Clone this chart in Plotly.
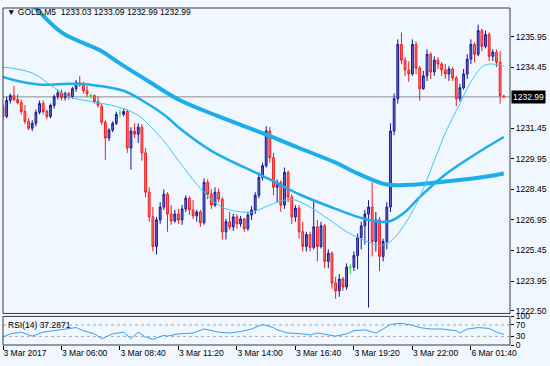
import plotly.graph_objects as go

# ---------------- data ----------------
bar_index = list(range(138))

opens = [1232.52,1232.03,1232.81,1233.05,1232.86,1232.71,1232.27,1231.79,1231.45,1231.69,
         1232.23,1232.66,1232.27,1232.03,1232.57,1233.00,1233.19,1232.95,1233.15,1233.00,
         1233.39,1233.68,1233.58,1233.29,1233.05,1233.05,1232.76,1232.52,1231.74,1230.97,
         1231.36,1231.69,1232.18,1232.13,1232.27,1230.48,1231.31,1231.16,1231.50,1230.24,
         1228.31,1227.10,1225.65,1226.95,1227.58,1228.21,1227.24,1226.90,1227.24,1226.95,
         1227.49,1228.02,1227.44,1227.15,1227.34,1226.81,1228.79,1228.21,1227.68,1228.31,
         1227.97,1226.37,1226.86,1226.61,1227.10,1226.76,1227.00,1226.52,1227.19,1227.44,
         1228.16,1229.03,1229.61,1231.31,1230.00,1228.55,1228.79,1227.68,1229.28,1228.07,
         1227.10,1227.53,1226.37,1225.65,1226.23,1225.60,1226.61,1225.65,1226.66,1224.92,
         1225.31,1223.86,1223.47,1224.05,1223.66,1224.63,1224.63,1225.21,1226.08,1226.66,
         1227.24,1227.58,1225.89,1226.95,1225.16,1225.89,1227.58,1231.31,1232.90,1235.56,
         1234.79,1234.31,1234.11,1235.56,1234.40,1233.39,1234.02,1235.08,1234.21,1234.79,
         1234.60,1234.31,1234.11,1234.36,1233.92,1232.90,1233.44,1234.11,1234.84,1235.56,
         1235.08,1236.24,1235.47,1236.05,1234.98,1235.18,1234.69,1233.03]
highs = [1232.66,1233.00,1233.15,1233.53,1233.10,1232.86,1232.57,1231.94,1231.84,1232.37,
         1232.81,1232.81,1232.37,1232.66,1233.10,1233.34,1233.34,1233.24,1233.24,1233.48,
         1233.82,1234.02,1233.73,1233.53,1233.15,1233.10,1233.00,1232.66,1231.84,1231.45,
         1231.79,1232.27,1232.37,1232.42,1232.37,1231.50,1231.69,1231.69,1231.65,1230.48,
         1228.55,1227.58,1227.10,1227.82,1228.45,1228.31,1227.68,1227.44,1227.49,1227.68,
         1228.16,1228.11,1227.92,1227.44,1227.44,1228.99,1228.94,1228.45,1228.55,1228.50,
         1228.07,1227.00,1227.34,1227.24,1227.24,1227.15,1227.05,1227.34,1227.63,1228.31,
         1229.28,1229.76,1231.55,1231.50,1230.24,1228.94,1228.89,1229.52,1229.37,1228.21,
         1227.68,1227.68,1226.86,1226.37,1226.37,1227.97,1226.95,1226.86,1226.76,1225.50,
         1225.40,1224.15,1224.29,1224.15,1224.82,1224.78,1225.40,1226.28,1226.86,1227.44,
         1227.92,1228.79,1227.34,1227.10,1226.03,1227.82,1231.69,1233.15,1235.81,1236.15,
         1234.94,1234.74,1235.81,1235.71,1234.50,1234.26,1235.32,1235.18,1234.98,1234.94,
         1234.69,1234.60,1234.50,1234.45,1234.02,1233.63,1234.36,1235.08,1235.81,1235.66,
         1236.53,1236.34,1236.24,1236.15,1235.32,1235.32,1235.23,1233.09]
lows = [1231.84,1231.94,1232.66,1232.76,1232.61,1232.13,1231.65,1231.36,1231.31,1231.55,
        1232.13,1232.13,1231.89,1231.94,1232.42,1232.86,1232.81,1232.81,1232.86,1232.90,
        1233.24,1233.48,1233.15,1233.00,1232.90,1232.66,1232.47,1231.60,1229.90,1230.82,
        1231.26,1231.60,1231.98,1232.03,1230.24,1229.42,1230.97,1230.73,1229.86,1228.07,
        1226.86,1225.40,1225.26,1226.76,1227.44,1226.37,1226.71,1226.81,1226.76,1226.71,
        1227.34,1227.19,1227.00,1226.86,1226.61,1226.71,1227.97,1227.49,1227.58,1227.82,
        1225.99,1225.99,1226.47,1226.42,1226.52,1226.61,1226.37,1226.42,1226.95,1227.24,
        1228.02,1228.89,1229.52,1229.76,1228.16,1227.82,1227.34,1227.49,1227.82,1226.76,
        1226.86,1226.03,1225.40,1225.40,1225.40,1225.50,1224.92,1225.55,1224.58,1224.58,
        1223.57,1223.08,1223.18,1223.47,1223.52,1224.29,1224.44,1224.53,1225.50,1225.74,
        1222.65,1225.16,1225.40,1224.44,1224.92,1225.50,1227.34,1231.11,1232.66,1234.60,
        1234.02,1233.73,1234.02,1234.11,1232.81,1233.34,1233.77,1233.87,1234.02,1234.36,
        1234.02,1233.87,1233.77,1233.77,1232.52,1232.76,1233.34,1233.87,1234.60,1234.69,
        1234.98,1235.23,1235.37,1234.74,1234.74,1234.45,1232.66,1232.99]
closes = [1232.03,1232.81,1233.05,1232.86,1232.71,1232.27,1231.79,1231.45,1231.69,1232.23,
          1232.66,1232.27,1232.03,1232.57,1233.00,1233.19,1232.95,1233.15,1233.00,1233.39,
          1233.68,1233.58,1233.29,1233.15,1233.05,1232.76,1232.57,1231.74,1230.97,1231.36,
          1231.69,1232.13,1232.18,1232.27,1230.48,1231.31,1231.16,1231.50,1230.24,1228.31,
          1227.10,1225.65,1226.95,1227.58,1228.21,1227.24,1226.90,1227.24,1226.95,1227.49,
          1228.02,1227.44,1227.15,1227.34,1226.81,1228.79,1228.21,1227.68,1228.31,1227.97,
          1226.37,1226.86,1226.61,1227.10,1226.76,1227.00,1226.52,1227.19,1227.44,1228.16,
          1229.03,1229.61,1231.31,1230.00,1228.55,1228.79,1227.68,1229.28,1228.07,1227.10,
          1227.53,1226.37,1225.65,1226.23,1225.60,1226.61,1225.65,1226.66,1224.92,1225.31,
          1223.86,1223.47,1224.05,1223.66,1224.63,1224.63,1225.21,1226.08,1226.66,1227.24,
          1227.58,1225.89,1226.95,1225.16,1225.89,1227.58,1231.31,1232.90,1235.56,1234.79,
          1234.31,1234.11,1235.56,1234.40,1233.39,1234.02,1235.08,1234.21,1234.79,1234.60,
          1234.31,1234.11,1234.36,1233.92,1232.90,1233.44,1234.11,1234.84,1235.56,1235.08,
          1236.24,1235.47,1236.05,1234.98,1235.18,1234.69,1233.05,1232.99]

# moving averages, read at sample bars
ma_slow_idx = [0, 8, 16, 27, 31, 40, 48, 59, 71, 81, 91, 97, 105, 113, 121, 129, 137]
ma_slow_val = [1238.70, 1237.50, 1236.15, 1235.23, 1234.74, 1233.73, 1232.86, 1232.03, 1231.21,
               1230.48, 1229.76, 1229.23, 1228.69, 1228.69, 1228.84, 1228.99, 1229.23]
ma_mid_idx = [0, 5, 11, 18, 24, 33, 39, 45, 48, 57, 69, 73, 81, 91, 97, 103, 106, 110, 114, 121, 129, 137]
ma_mid_val = [1233.97, 1233.73, 1233.58, 1233.63, 1233.58, 1233.29, 1232.71, 1231.98, 1231.50, 1230.34,
              1229.28, 1228.94, 1228.21, 1227.49, 1227.10, 1226.86, 1226.90, 1227.34, 1228.07, 1229.18,
              1230.15, 1231.02]
ma_fast_idx = [0, 8, 14, 18, 24, 31, 37, 40, 44, 48, 54, 59, 62, 68, 73, 77, 80, 84, 89, 94, 99, 103,
               106, 110, 114, 118, 121, 125, 128, 131, 133, 137]
ma_fast_val = [1234.45, 1234.16, 1233.44, 1233.00, 1232.76, 1232.52, 1232.08, 1231.60, 1230.82, 1229.86,
               1228.50, 1227.68, 1227.44, 1227.34, 1227.68, 1227.92, 1227.92, 1227.58, 1227.00, 1226.37,
               1225.94, 1225.70, 1225.89, 1226.76, 1228.07, 1229.86, 1231.21, 1232.66, 1233.73, 1234.45,
               1234.60, 1234.50]

# RSI(14), read at sample bars
rsi_idx = [0, 2, 5, 8, 11, 15, 17, 20, 22, 25, 27, 30, 33, 35, 37, 39, 41, 44, 45, 48, 52, 55, 59, 62,
           65, 68, 71, 74, 75, 78, 82, 84, 86, 89, 91, 94, 96, 99, 102, 104, 106, 109, 112, 114, 117,
           120, 124, 125, 127, 130, 133, 135, 136, 137]
rsi_val = [28, 39, 45, 31, 45, 53, 56, 61, 50, 39, 22, 39, 45, 22, 45, 28, 20, 34, 31, 39, 42, 56, 45, 42,
           47, 56, 72, 61, 53, 42, 39, 35, 42, 35, 31, 39, 50, 53, 42, 56, 72, 76, 69, 61, 56,
           56, 50, 42, 56, 61, 58, 45, 42, 37.2871]

tick_bars = [0, 16, 32, 48, 64, 80, 96, 112, 128]
tick_text = ["3 Mar 2017", "3 Mar 06:00", "3 Mar 08:40", "3 Mar 11:20", "3 Mar 14:00",
             "3 Mar 16:40", "3 Mar 19:20", "3 Mar 22:00", "6 Mar 01:40"]
price_ticks = [1235.95, 1234.45, 1231.45, 1229.95, 1228.45, 1226.95, 1225.45, 1223.95, 1222.50]
last_price = 1232.99
rsi_levels = [70, 30]

# ---------------- figure ----------------
FONT = "Liberation Sans"
FS = 8.5
BG = "#F0F7FE"

reg = [i for i in bar_index if opens[i] != closes[i]]
doj = [i for i in bar_index if opens[i] == closes[i]]

fig = go.Figure()

fig.add_trace(go.Scatter(x=ma_slow_idx, y=ma_slow_val, mode="lines",
                         line=dict(color="#1DAEEA", width=4, shape="spline", smoothing=1.0),
                         hoverinfo="skip", showlegend=False))
fig.add_trace(go.Scatter(x=ma_mid_idx, y=ma_mid_val, mode="lines",
                         line=dict(color="#1DAEEA", width=2.5, shape="spline", smoothing=1.0),
                         hoverinfo="skip", showlegend=False))
fig.add_trace(go.Scatter(x=ma_fast_idx, y=ma_fast_val, mode="lines",
                         line=dict(color="#3CC6F4", width=1, shape="spline", smoothing=1.0),
                         hoverinfo="skip", showlegend=False))

fig.add_trace(go.Candlestick(
    x=[bar_index[i] for i in reg],
    open=[opens[i] for i in reg], high=[highs[i] for i in reg],
    low=[lows[i] for i in reg], close=[closes[i] for i in reg],
    increasing=dict(line=dict(color="#16168F", width=1), fillcolor="#6F6FD2"),
    decreasing=dict(line=dict(color="#F21A1A", width=1), fillcolor="#F58484"),
    whiskerwidth=0, showlegend=False, xaxis="x", yaxis="y"))
fig.add_trace(go.Candlestick(
    x=[bar_index[i] for i in doj],
    open=[opens[i] for i in doj], high=[highs[i] for i in doj],
    low=[lows[i] for i in doj], close=[closes[i] for i in doj],
    increasing=dict(line=dict(color="#22DD22", width=1), fillcolor="#22DD22"),
    decreasing=dict(line=dict(color="#22DD22", width=1), fillcolor="#22DD22"),
    whiskerwidth=0, showlegend=False, xaxis="x", yaxis="y"))

fig.add_trace(go.Scatter(x=rsi_idx, y=rsi_val, mode="lines",
                         line=dict(color="#3A9CF2", width=1),
                         hoverinfo="skip", showlegend=False, xaxis="x", yaxis="y2"))

shapes = [
    dict(type="line", xref="x domain", x0=0, x1=1, yref="y", y0=last_price, y1=last_price,
         line=dict(color="#8E8E8E", width=1), layer="below"),
    dict(type="rect", xref="x domain", x0=0, x1=1, yref="y domain", y0=0, y1=1,
         line=dict(color="#3A3A3A", width=1)),
    dict(type="rect", xref="x domain", x0=0, x1=1, yref="y2 domain", y0=0, y1=1,
         line=dict(color="#3A3A3A", width=1)),
]
for lv in rsi_levels:
    shapes.append(dict(type="line", xref="x domain", x0=0, x1=1, yref="y2", y0=lv, y1=lv,
                       line=dict(color="#A8A8A8", width=1, dash="3px,3px"), layer="below"))

annotations = [
    dict(xref="paper", yref="paper", x=0.004, y=0.988, xanchor="left", yanchor="middle",
         text="\u25bc GOLD,M5\u00a0\u00a01233.03 1233.09 1232.99 1232.99", showarrow=False,
         font=dict(family=FONT, size=FS, color="black")),
    dict(xref="paper", yref="paper", x=0.006, y=0.058, xanchor="left", yanchor="middle",
         text="RSI(14) 37.2871", showarrow=False,
         font=dict(family=FONT, size=FS, color="black")),
    dict(xref="paper", yref="y", x=1, y=last_price, xanchor="left", yanchor="middle",
         xshift=1, text="1232.99", showarrow=False, bgcolor="black", borderpad=1,
         font=dict(family=FONT, size=FS, color="white")),
]

fig.update_layout(
    width=550, height=366,
    margin=dict(l=3, r=38, t=3, b=21),
    paper_bgcolor=BG, plot_bgcolor=BG,
    font=dict(family=FONT, size=FS, color="black"),
    showlegend=False,
    shapes=shapes, annotations=annotations,
    xaxis=dict(domain=[0, 1], range=[0, 138.7], anchor="y2",
               tickmode="array", tickvals=tick_bars, ticktext=tick_text,
               ticks="outside", ticklen=4, tickcolor="black",
               ticklabelposition="outside right",
               showgrid=False, zeroline=False, showline=False,
               rangeslider=dict(visible=False), fixedrange=True),
    yaxis=dict(domain=[0.0936, 1], range=[1222.36, 1237.35], side="right", anchor="x",
               tickmode="array", tickvals=price_ticks,
               ticktext=[f"{v:.2f}" for v in price_ticks],
               ticks="outside", ticklen=3, tickcolor="black",
               showgrid=False, zeroline=False, showline=False, fixedrange=True),
    yaxis2=dict(domain=[0, 0.0848], range=[0, 100], side="right", anchor="x",
                tickmode="array", tickvals=[100, 70, 30, 0],
                ticks="outside", ticklen=3, tickcolor="black",
                showgrid=False, zeroline=False, showline=False, fixedrange=True),
)

fig.write_html("out.html", config={"displayModeBar": False},
               post_script="document.body.style.margin='0';document.body.style.background='%s';" % BG)
